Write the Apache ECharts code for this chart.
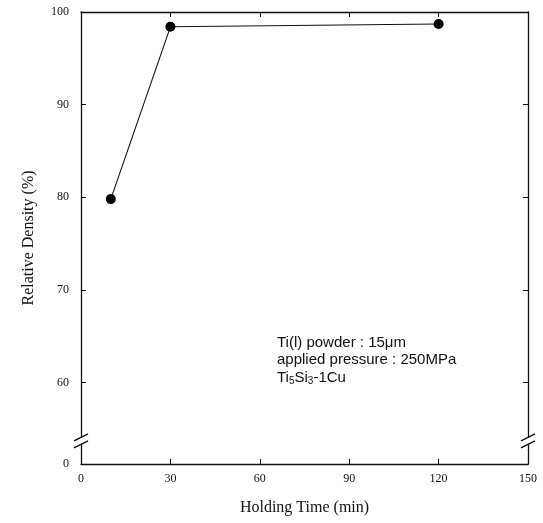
<!DOCTYPE html>
<html>
<head>
<meta charset="utf-8">
<script src="https://cdn.jsdelivr.net/npm/echarts@6/dist/echarts.min.js"></script>
<style>
  html, body { margin: 0; padding: 0; background: #fff; }
  #chart { width: 543px; height: 523px; }
</style>
</head>
<body>
<div id="chart"></div>
<script>
// data
const holdingTime = [10, 30, 120];
const relDensity = [79.8, 98.4, 98.7];
const xTicks = [0, 30, 60, 90, 120, 150];
const yTicks = [60, 70, 80, 90, 100];
const yBottomLabel = '0';

// the axis is broken below 60: its bottom end stands for "0"
const yBase = 51.2;
const yBreakAt = 53.7;
const serif = '"Liberation Serif", "DejaVu Serif", serif';
const ink = '#111';

const chart = echarts.init(document.getElementById('chart'));

const yTickValues = [yBase].concat(yTicks);

function frameAxis(extra) {
  return Object.assign({
    axisLine: { show: true, onZero: false, lineStyle: { color: ink, width: 1.3 } },
    axisTick: { show: true, inside: true, length: 5, lineStyle: { color: ink, width: 1 } },
    splitLine: { show: false }
  }, extra);
}

const option = {
  animation: false,
  backgroundColor: '#fff',
  grid: { left: 81, right: 15, top: 12, bottom: 59 },
  xAxis: [
    frameAxis({
      type: 'value', min: 0, max: 150, interval: 30, position: 'bottom',
      name: 'Holding Time (min)', nameLocation: 'middle', nameGap: 36,
      nameTextStyle: { fontFamily: serif, fontSize: 16, color: ink },
      axisLabel: { fontFamily: serif, fontSize: 12, color: ink, margin: 9 }
    }),
    frameAxis({
      type: 'value', min: 0, max: 150, interval: 30, position: 'top',
      axisLabel: { show: false }
    })
  ],
  yAxis: [
    frameAxis({
      type: 'value', min: yBase, max: 100, position: 'left',
      name: 'Relative Density (%)', nameLocation: 'middle', nameGap: 44,
      nameTextStyle: { fontFamily: serif, fontSize: 16, color: ink },
      axisTick: { show: true, inside: true, length: 5, customValues: yTicks, lineStyle: { color: ink, width: 1 } },
      axisLabel: {
        fontFamily: serif, fontSize: 12, color: ink, margin: 12,
        customValues: yTickValues,
        formatter: v => (v < yTicks[0] ? yBottomLabel : String(v))
      }
    }),
    frameAxis({
      type: 'value', min: yBase, max: 100, position: 'right',
      axisTick: { show: true, inside: true, length: 5, customValues: yTicks, lineStyle: { color: ink, width: 1 } },
      axisLabel: { show: false }
    })
  ],
  series: [{
    type: 'line',
    data: holdingTime.map((t, i) => [t, relDensity[i]]),
    symbol: 'circle',
    symbolSize: 10,
    itemStyle: { color: '#000' },
    lineStyle: { color: ink, width: 1.1 }
  }]
};
chart.setOption(option);

// break marks "//" on both vertical axes, plus the annotation text
function breakMark(px, py) {
  return [
    { type: 'rect', shape: { x: px - 3, y: py - 3, width: 6, height: 6 }, style: { fill: '#fff' }, z: 100 },
    { type: 'line', shape: { x1: px - 7, y1: py + 0, x2: px + 7, y2: py - 7 }, style: { stroke: ink, lineWidth: 1.3 }, z: 101 },
    { type: 'line', shape: { x1: px - 7, y1: py + 7, x2: px + 7, y2: py + 0 }, style: { stroke: ink, lineWidth: 1.3 }, z: 101 }
  ];
}
const pLeft = chart.convertToPixel({ xAxisIndex: 0, yAxisIndex: 0 }, [0, yBreakAt]);
const pRight = chart.convertToPixel({ xAxisIndex: 0, yAxisIndex: 0 }, [150, yBreakAt]);

const noteFont = '"Liberation Sans", Arial, sans-serif';
chart.setOption({
  graphic: breakMark(pLeft[0], pLeft[1]).concat(breakMark(pRight[0], pRight[1])).concat([{
    type: 'text',
    left: 277,
    top: 334,
    z: 102,
    style: {
      text: 'Ti(l) powder : 15\u03bcm\napplied pressure : 250MPa\n{n|Ti}{s|5}{n|Si}{s|3}{n|-1Cu}',
      font: '15px ' + noteFont,
      fill: ink,
      lineHeight: 17.5,
      rich: {
        n: { fontFamily: noteFont, fontSize: 15, lineHeight: 17.5, fill: ink },
        s: { fontFamily: noteFont, fontSize: 10, lineHeight: 17.5, padding: [7, 0, 0, 0], fill: ink }
      }
    }
  }])
});
</script>
</body>
</html>
